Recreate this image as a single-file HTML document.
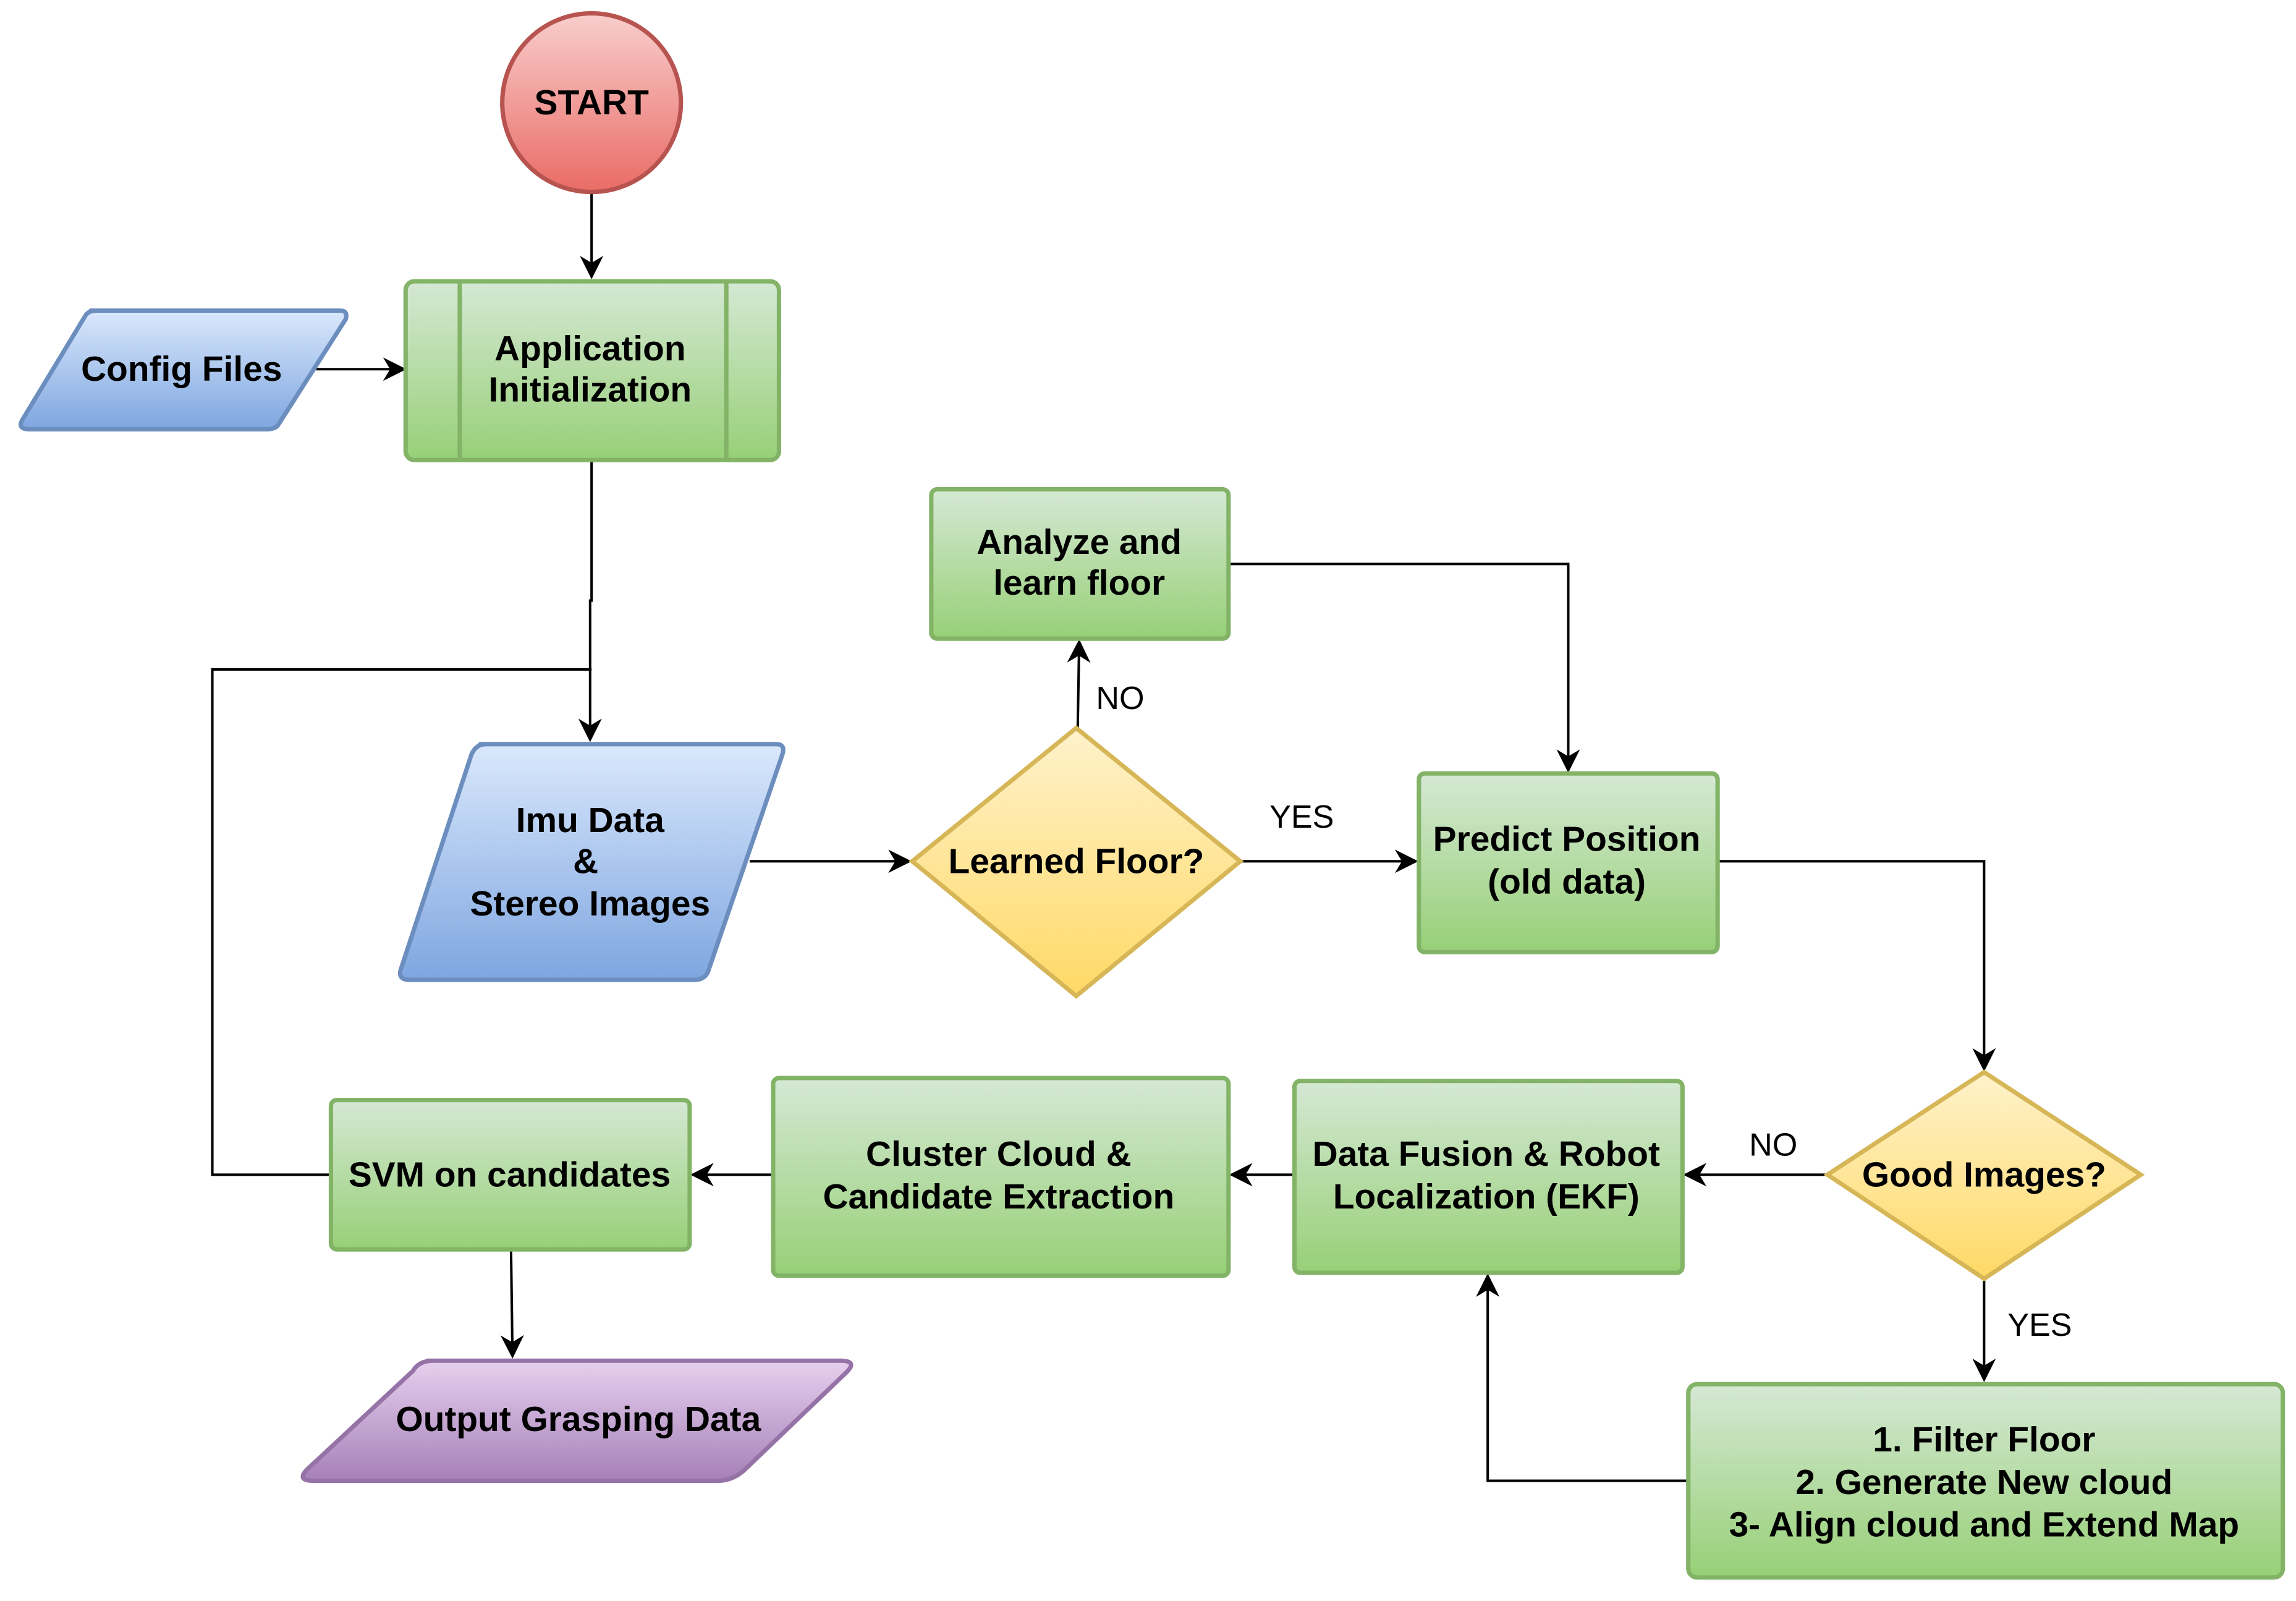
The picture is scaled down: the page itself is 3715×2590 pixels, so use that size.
<!DOCTYPE html>
<html><head><meta charset="utf-8"><style>html,body{margin:0;padding:0;background:#fff}svg{display:block}</style></head>
<body>
<svg width="3715" height="2590" viewBox="0 0 1568 1093" xmlns="http://www.w3.org/2000/svg" font-family="Liberation Sans, Arial, sans-serif">
<defs>
<linearGradient id="gr" x1="0" y1="0" x2="0" y2="1"><stop offset="0" stop-color="#f8cecc"/><stop offset="1" stop-color="#ea6b66"/></linearGradient>
<linearGradient id="gg" x1="0" y1="0" x2="0" y2="1"><stop offset="0" stop-color="#d5e8d4"/><stop offset="1" stop-color="#97d077"/></linearGradient>
<linearGradient id="gb" x1="0" y1="0" x2="0" y2="1"><stop offset="0" stop-color="#dae8fc"/><stop offset="1" stop-color="#7ea6e0"/></linearGradient>
<linearGradient id="gy" x1="0" y1="0" x2="0" y2="1"><stop offset="0" stop-color="#fff2cc"/><stop offset="1" stop-color="#ffd966"/></linearGradient>
<linearGradient id="gp" x1="0" y1="0" x2="0" y2="1"><stop offset="0" stop-color="#e6d0ee"/><stop offset="1" stop-color="#a680b8"/></linearGradient>
<marker id="b" viewBox="0 0 10 10" refX="9" refY="5" markerWidth="16" markerHeight="16" orient="auto" markerUnits="userSpaceOnUse"><path d="M0,0 L10,5 L0,10 L3,5 z" fill="#000"/></marker>
</defs>
<g fill="none" stroke="#000" stroke-width="1.7" marker-end="url(#b)">
<path d="M404,132 L404,189"/>
<path d="M216,252 L276,252"/>
<path d="M404,314 L404,410 L403,410 L403,505"/>
<path d="M226,802 L145,802 L145,457 L404,457" marker-end="none"/>
<path d="M512,588 L621,588"/>
<path d="M736,497 L737,438"/>
<path d="M839,385 L1071,385 L1071,526"/>
<path d="M847,588 L967,588"/>
<path d="M1173,588 L1355,588 L1355,730"/>
<path d="M1248,802 L1151,802"/>
<path d="M884,802 L841,802"/>
<path d="M528,802 L473,802"/>
<path d="M349,853 L350,926"/>
<path d="M1355,873 L1355,942"/>
<path d="M1153,1011 L1016,1011 L1016,871"/>
</g>
<g stroke-width="3">
<circle cx="404" cy="70" r="61" fill="url(#gr)" stroke="#b85450"/>
<rect x="277" y="192" width="255" height="122" rx="6" fill="url(#gg)" stroke="#82b366"/>
<path d="M314,192 V314 M496,192 V314" stroke="#82b366" fill="none"/>
<path d="M62,212 L232,212 Q238,212 236,218 L190,290 Q188,293 182,293 L20,293 Q12,293 15,287 L58,216 Q60,212 66,212 Z" fill="url(#gb)" stroke="#6c8ebf" stroke-linejoin="round"/>
<path d="M328,508 L530,508 Q537,508 534,516 L484,662 Q482,669 474,669 L280,669 Q271,669 274,661 L322,515 Q325,508 332,508 Z" fill="url(#gb)" stroke="#6c8ebf" stroke-linejoin="round"/>
<path d="M735,497 L847,588 L735,680 L623,588 Z" fill="url(#gy)" stroke="#d6b656"/>
<rect x="636" y="334" width="203" height="102" rx="4" fill="url(#gg)" stroke="#82b366"/>
<rect x="969" y="528" width="204" height="122" rx="4" fill="url(#gg)" stroke="#82b366"/>
<path d="M1355,732 L1462,802 L1355,873 L1248,802 Z" fill="url(#gy)" stroke="#d6b656"/>
<rect x="884" y="738" width="265" height="131" rx="4" fill="url(#gg)" stroke="#82b366"/>
<rect x="528" y="736" width="311" height="135" rx="4" fill="url(#gg)" stroke="#82b366"/>
<rect x="226" y="751" width="245" height="102" rx="4" fill="url(#gg)" stroke="#82b366"/>
<rect x="1153" y="945" width="406" height="132" rx="6" fill="url(#gg)" stroke="#82b366"/>
<path d="M292,929 L574,929 Q586,929 578,937 L508,1004 Q500,1011 490,1011 L214,1011 Q202,1011 210,1003 L282,936 Q286,929 296,929 Z" fill="url(#gp)" stroke="#9673a6" stroke-linejoin="round"/>
</g>
<g font-size="24" font-weight="bold" text-anchor="middle" fill="#000">
<text x="404" y="78">START</text>
<text x="403" y="246">Application</text>
<text x="403" y="274">Initialization</text>
<text x="124" y="260">Config Files</text>
<text x="403" y="568">Imu Data</text>
<text x="400" y="596">&amp;</text>
<text x="403" y="625">Stereo Images</text>
<text x="735" y="596">Learned Floor?</text>
<text x="737" y="378">Analyze and</text>
<text x="737" y="406">learn floor</text>
<text x="1070" y="581">Predict Position</text>
<text x="1070" y="610">(old data)</text>
<text x="1355" y="810">Good Images?</text>
<text x="1015" y="796">Data Fusion &amp; Robot</text>
<text x="1015" y="825">Localization (EKF)</text>
<text x="682" y="796">Cluster Cloud &amp;</text>
<text x="682" y="825">Candidate Extraction</text>
<text x="348" y="810">SVM on candidates</text>
<text x="395" y="977">Output Grasping Data</text>
<text x="1355" y="991">1. Filter Floor</text>
<text x="1355" y="1020">2. Generate New cloud</text>
<text x="1355" y="1049">3- Align cloud and Extend Map</text>
</g>
<g font-size="22" text-anchor="middle" fill="#000">
<text x="765" y="484">NO</text>
<text x="889" y="565">YES</text>
<text x="1211" y="789">NO</text>
<text x="1393" y="912">YES</text>
</g>
</svg>
</body></html>
